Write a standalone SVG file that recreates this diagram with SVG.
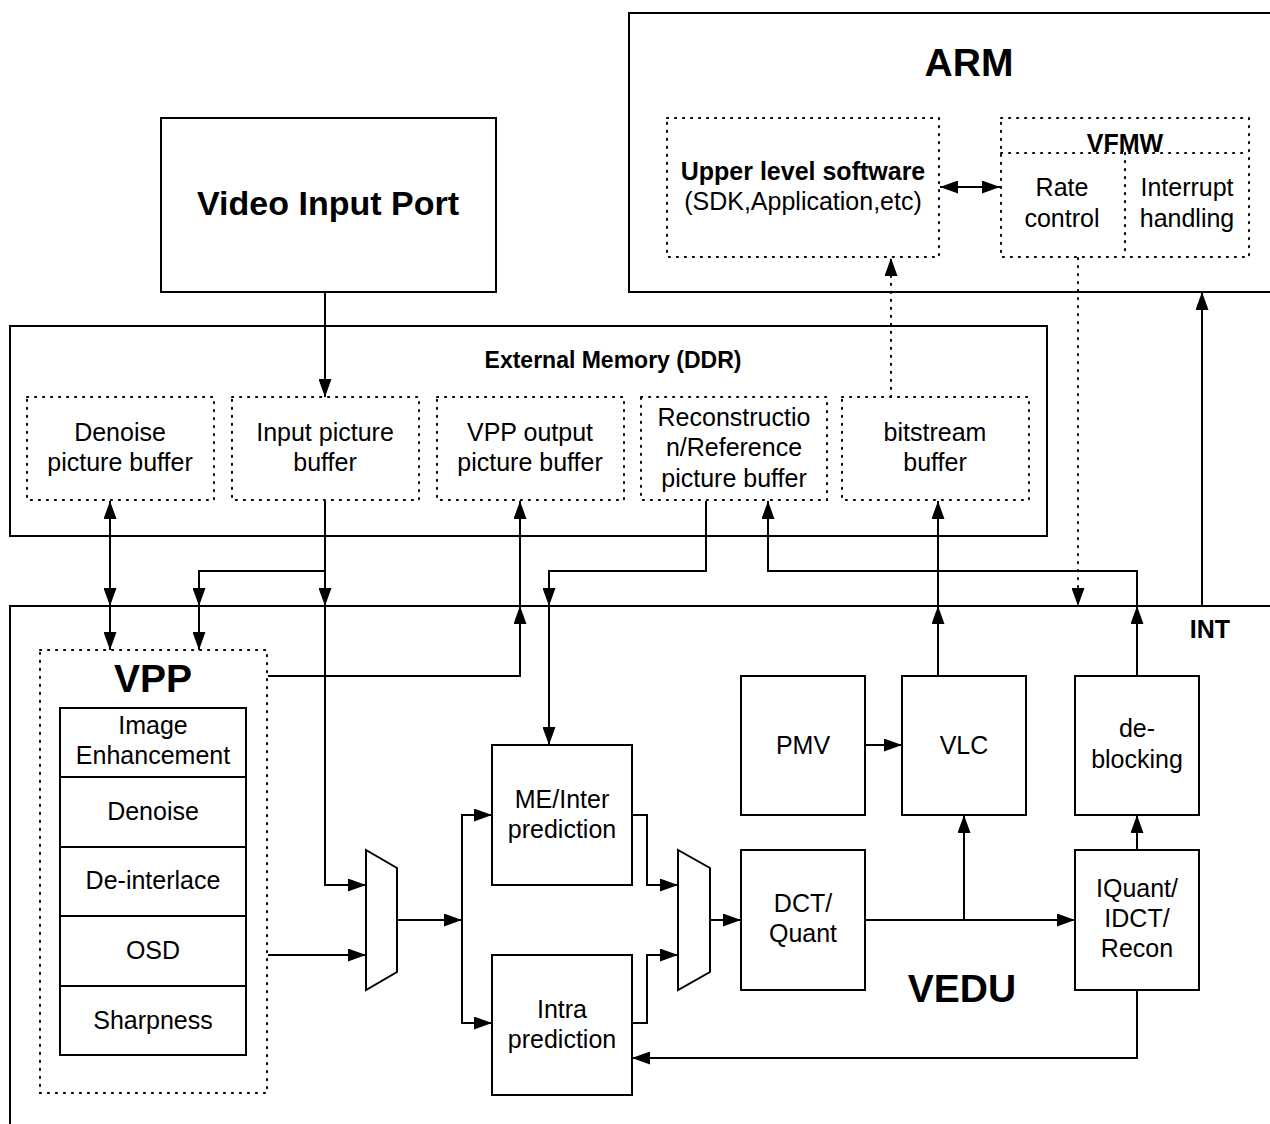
<svg xmlns="http://www.w3.org/2000/svg" width="1270" height="1124" viewBox="0 0 1270 1124">
<style>
.box{fill:#fff;stroke:#000;stroke-width:2}
.dot{fill:none;stroke:#000;stroke-width:2;stroke-dasharray:1.2 6.8;stroke-linecap:round}
.ln{fill:none;stroke:#000;stroke-width:2}
.dl{fill:none;stroke:#000;stroke-width:2;stroke-dasharray:1.2 6.8;stroke-linecap:round}
text{font-family:"Liberation Sans",Arial,sans-serif;fill:#000;text-anchor:middle}
.t{font-size:25px}
.b{font-size:25px;font-weight:bold}
.h{font-size:39px;font-weight:bold}
</style>
<defs>
<marker id="ah" markerUnits="userSpaceOnUse" markerWidth="18" markerHeight="13" refX="18" refY="6.5" orient="auto-start-reverse" viewBox="0 0 18 13">
<path d="M0,0 L18,6.5 L0,13 z" fill="#000"/>
</marker>
</defs>
<rect width="1270" height="1124" fill="#fff"/>

<g id="arm">
<rect class="box" x="629" y="13" width="700" height="279"/>
<text class="h" x="969" y="76">ARM</text>
</g>
<g id="upper-software">
<rect class="dot" x="667" y="118" width="272" height="139"/>
<text class="b" x="803" y="180">Upper level software</text>
<text class="t" x="803" y="210">(SDK,Application,etc)</text>
</g>
<g id="vfmw">
<rect class="dot" x="1001" y="118" width="248" height="139"/>
<line class="dot" x1="1001" y1="153" x2="1249" y2="153"/>
<line class="dot" x1="1125" y1="153" x2="1125" y2="257"/>
<text class="b" x="1125" y="152">VFMW</text>
<text class="t" x="1062" y="196">Rate</text>
<text class="t" x="1062" y="227">control</text>
<text class="t" x="1187" y="196">Interrupt</text>
<text class="t" x="1187" y="227">handling</text>
</g>
<g id="video-input-port">
<rect class="box" x="161" y="118" width="335" height="174"/>
<text x="328" y="215" style="font-size:34px;font-weight:bold">Video Input Port</text>
</g>
<g id="external-memory">
<rect class="box" x="10" y="326" width="1037" height="210"/>
<text class="b" x="613" y="368" style="font-size:23px">External Memory (DDR)</text>
</g>
<g id="denoise-buffer">
<rect class="dot" x="27" y="397" width="187" height="103"/>
<text class="t" x="120" y="441">Denoise</text>
<text class="t" x="120" y="471">picture buffer</text>
</g>
<g id="input-buffer">
<rect class="dot" x="232" y="397" width="187" height="103"/>
<text class="t" x="325" y="441">Input picture</text>
<text class="t" x="325" y="471">buffer</text>
</g>
<g id="vpp-output-buffer">
<rect class="dot" x="437" y="397" width="187" height="103"/>
<text class="t" x="530" y="441">VPP output</text>
<text class="t" x="530" y="471">picture buffer</text>
</g>
<g id="recon-buffer">
<rect class="dot" x="641" y="397" width="186" height="103"/>
<text class="t" x="734" y="426">Reconstructio</text>
<text class="t" x="734" y="456">n/Reference</text>
<text class="t" x="734" y="487">picture buffer</text>
</g>
<g id="bitstream-buffer">
<rect class="dot" x="842" y="397" width="187" height="103"/>
<text class="t" x="935" y="441">bitstream</text>
<text class="t" x="935" y="471">buffer</text>
</g>
<g id="vedu">
<rect class="box" x="10" y="606" width="1300" height="560"/>
<text class="h" x="962" y="1002">VEDU</text>
<text class="b" x="1210" y="638">INT</text>
</g>
<g id="vpp">
<rect class="dot" x="40" y="650" width="227" height="443"/>
<text class="h" x="153" y="692">VPP</text>
</g>
<g id="image-enhancement">
<rect class="box" x="60" y="708" width="186" height="69"/>
<text class="t" x="153" y="734">Image</text>
<text class="t" x="153" y="764">Enhancement</text>
</g>
<g id="denoise">
<rect class="box" x="60" y="777" width="186" height="70"/>
<text class="t" x="153" y="820">Denoise</text>
</g>
<g id="deinterlace">
<rect class="box" x="60" y="847" width="186" height="69"/>
<text class="t" x="153" y="889">De-interlace</text>
</g>
<g id="osd">
<rect class="box" x="60" y="916" width="186" height="70"/>
<text class="t" x="153" y="959">OSD</text>
</g>
<g id="sharpness">
<rect class="box" x="60" y="986" width="186" height="69"/>
<text class="t" x="153" y="1029">Sharpness</text>
</g>
<g id="mux1">
<polygon class="box" points="366,850 397,868 397,972 366,990"/>
</g>
<g id="mux2">
<polygon class="box" points="678,850 710,868 710,972 678,990"/>
</g>
<g id="me-inter">
<rect class="box" x="492" y="745" width="140" height="140"/>
<text class="t" x="562" y="808">ME/Inter</text>
<text class="t" x="562" y="838">prediction</text>
</g>
<g id="intra">
<rect class="box" x="492" y="955" width="140" height="140"/>
<text class="t" x="562" y="1018">Intra</text>
<text class="t" x="562" y="1048">prediction</text>
</g>
<g id="pmv">
<rect class="box" x="741" y="676" width="124" height="139"/>
<text class="t" x="803" y="754">PMV</text>
</g>
<g id="vlc">
<rect class="box" x="902" y="676" width="124" height="139"/>
<text class="t" x="964" y="754">VLC</text>
</g>
<g id="dct-quant">
<rect class="box" x="741" y="850" width="124" height="140"/>
<text class="t" x="803" y="912">DCT/</text>
<text class="t" x="803" y="942">Quant</text>
</g>
<g id="deblocking">
<rect class="box" x="1075" y="676" width="124" height="139"/>
<text class="t" x="1137" y="737">de-</text>
<text class="t" x="1137" y="768">blocking</text>
</g>
<g id="iquant">
<rect class="box" x="1075" y="850" width="124" height="140"/>
<text class="t" x="1137" y="897">IQuant/</text>
<text class="t" x="1137" y="927">IDCT/</text>
<text class="t" x="1137" y="957">Recon</text>
</g>

<g id="connectors">
<line class="ln" x1="940" y1="187" x2="1000" y2="187" marker-start="url(#ah)" marker-end="url(#ah)"/>
<line class="dl" x1="891" y1="397" x2="891" y2="258" marker-end="url(#ah)"/>
<line class="dl" x1="1078" y1="258" x2="1078" y2="606" marker-end="url(#ah)"/>
<line class="ln" x1="1202" y1="606" x2="1202" y2="292" marker-end="url(#ah)"/>
<line class="ln" x1="325" y1="292" x2="325" y2="397" marker-end="url(#ah)"/>

<line class="ln" x1="110" y1="606" x2="110" y2="501" marker-end="url(#ah)"/>
<line class="ln" x1="110" y1="501" x2="110" y2="606" marker-end="url(#ah)"/>
<line class="ln" x1="110" y1="606" x2="110" y2="650" marker-end="url(#ah)"/>

<line class="ln" x1="325" y1="501" x2="325" y2="606" marker-end="url(#ah)"/>
<path class="ln" d="M325,571 H199 V606" marker-end="url(#ah)"/>
<line class="ln" x1="199" y1="606" x2="199" y2="650" marker-end="url(#ah)"/>
<path class="ln" d="M325,606 V885 H366" marker-end="url(#ah)"/>

<path class="ln" d="M268,676 H520 V606" marker-end="url(#ah)"/>
<line class="ln" x1="520" y1="606" x2="520" y2="501" marker-end="url(#ah)"/>

<path class="ln" d="M706,501 V571 H549 V606" marker-end="url(#ah)"/>
<line class="ln" x1="549" y1="606" x2="549" y2="745" marker-end="url(#ah)"/>

<line class="ln" x1="938" y1="676" x2="938" y2="606" marker-end="url(#ah)"/>
<line class="ln" x1="938" y1="606" x2="938" y2="501" marker-end="url(#ah)"/>

<line class="ln" x1="1137" y1="676" x2="1137" y2="606" marker-end="url(#ah)"/>
<path class="ln" d="M1137,606 V571 H768 V501" marker-end="url(#ah)"/>

<line class="ln" x1="268" y1="955" x2="366" y2="955" marker-end="url(#ah)"/>
<line class="ln" x1="397" y1="920" x2="462" y2="920" marker-end="url(#ah)"/>
<path class="ln" d="M462,920 V815 H492" marker-end="url(#ah)"/>
<path class="ln" d="M462,920 V1023 H492" marker-end="url(#ah)"/>
<path class="ln" d="M632,815 H647 V885 H678" marker-end="url(#ah)"/>
<path class="ln" d="M632,1023 H647 V955 H678" marker-end="url(#ah)"/>
<line class="ln" x1="710" y1="920" x2="741" y2="920" marker-end="url(#ah)"/>
<line class="ln" x1="865" y1="745" x2="902" y2="745" marker-end="url(#ah)"/>
<line class="ln" x1="865" y1="920" x2="1075" y2="920" marker-end="url(#ah)"/>
<line class="ln" x1="964" y1="920" x2="964" y2="815" marker-end="url(#ah)"/>
<line class="ln" x1="1137" y1="850" x2="1137" y2="815" marker-end="url(#ah)"/>
<path class="ln" d="M1137,990 V1058 H632" marker-end="url(#ah)"/>
</g>
</svg>
